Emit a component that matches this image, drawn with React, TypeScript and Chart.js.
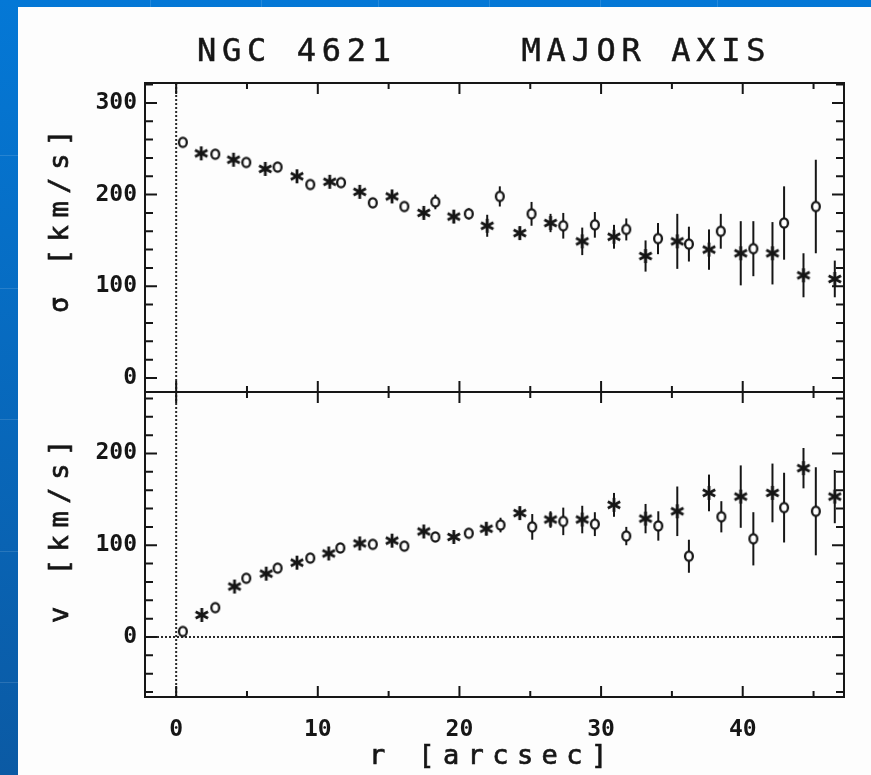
import React, { useEffect, useRef } from 'react';
import { Chart, registerables } from 'chart.js';

Chart.register(...registerables);

// ---------- data ----------
// Upper panel: velocity dispersion sigma [km/s]
const sigmaStarR = [1.77, 4.05, 6.29, 8.53, 10.84, 12.96, 15.24, 17.48, 19.6, 21.96, 24.26, 26.43, 28.67, 30.91, 33.14, 35.38, 37.62, 39.86, 42.1, 44.29, 46.5];
const sigmaStarV = [245, 238, 228, 220, 214, 203, 198, 180, 176, 166, 158, 169, 149, 154, 133, 149, 140, 136, 136, 112, 108];
const sigmaStarErr = [3, 3, 3, 4, 4, 4, 5, 5, 7, 12, 7, 10, 15, 13, 17, 30, 22, 35, 34, 24, 20];

const sigmaCircR = [0.47, 2.76, 4.95, 7.16, 9.47, 11.64, 13.88, 16.11, 18.3, 20.66, 22.85, 25.09, 27.33, 29.56, 31.78, 34.02, 36.2, 38.45, 40.75, 42.92, 45.16];
const sigmaCircV = [257, 244, 235, 230, 211, 213, 191, 187, 192, 179, 198, 179, 166, 167, 162, 152, 146, 160, 141, 169, 187];
const sigmaCircErr = [3, 3, 3, 3, 3, 4, 4, 5, 8, 6, 11, 13, 14, 14, 12, 17, 19, 19, 30, 40, 51];

// Lower panel: rotation velocity v [km/s]
const vStarR = [1.81, 4.12, 6.36, 8.53, 10.77, 12.96, 15.24, 17.48, 19.6, 21.9, 24.26, 26.43, 28.67, 30.91, 33.14, 35.38, 37.62, 39.86, 42.1, 44.29, 46.5];
const vStarV = [24, 55, 69, 81, 91, 102, 105, 115, 109, 118, 135, 128, 128, 144, 129, 137, 157, 153, 157, 184, 153];
const vStarErr = [3, 3, 3, 3, 3, 3, 4, 4, 5, 7, 7, 9, 15, 13, 16, 27, 20, 34, 32, 22, 29];

const vCircR = [0.47, 2.76, 4.95, 7.16, 9.47, 11.59, 13.88, 16.11, 18.3, 20.66, 22.9, 25.14, 27.33, 29.56, 31.78, 34.04, 36.2, 38.49, 40.75, 42.92, 45.16];
const vCircV = [6, 32, 64, 75, 86, 97, 101, 99, 109, 113, 122, 120, 126, 123, 110, 121, 88, 131, 107, 141, 137];
const vCircErr = [3, 3, 3, 3, 3, 3, 3, 5, 5, 5, 8, 14, 15, 13, 10, 16, 18, 17, 29, 38, 48];

// ---------- axes ----------
const xTickLabels = [0, 10, 20, 30, 40];
const xTickMarks = [0, 5, 10, 15, 20, 25, 30, 35, 40, 45];
const sigmaTickLabels = [0, 100, 200, 300];
const sigmaTickMarks = [0, 20, 40, 60, 80, 100, 120, 140, 160, 180, 200, 220, 240, 260, 280, 300, 320];
const vTickLabels = [0, 100, 200];
const vTickMarks = [-60, -40, -20, 0, 20, 40, 60, 80, 100, 120, 140, 160, 180, 200, 220, 240, 260];

const titleText = 'NGC 4621     MAJOR AXIS';
const sigmaTitle = 'σ [km/s]';
const vTitle = 'v [km/s]';
const xTitle = 'r [arcsec]';

const INK = '#161616';
const MONO = '"DejaVu Sans Mono", "Liberation Mono", monospace';

function pts(xs: number[], ys: number[]) {
  return xs.map((x, i) => ({ x, y: ys[i] }));
}

function makeStar(): HTMLCanvasElement {
  const size = 18;
  const c = document.createElement('canvas');
  c.width = size;
  c.height = size;
  const g = c.getContext('2d')!;
  g.strokeStyle = INK;
  g.lineWidth = 2.8;
  const cx = size / 2, cy = size / 2, r = 7;
  for (const a of [90, 28, 152]) {
    const rad = (a * Math.PI) / 180;
    g.beginPath();
    g.moveTo(cx - r * Math.cos(rad), cy - r * Math.sin(rad));
    g.lineTo(cx + r * Math.cos(rad), cy + r * Math.sin(rad));
    g.stroke();
  }
  return c;
}

function makeCircle(): HTMLCanvasElement {
  const size = 14;
  const c = document.createElement('canvas');
  c.width = size;
  c.height = size;
  const g = c.getContext('2d')!;
  g.fillStyle = '#ffffff';
  g.strokeStyle = INK;
  g.lineWidth = 2.3;
  g.beginPath();
  g.ellipse(size / 2, size / 2, 3.9, 4.7, 0, 0, Math.PI * 2);
  g.fill();
  g.stroke();
  return c;
}

const decorPlugin = {
  id: 'decor',
  beforeDraw(chart: any) {
    const { ctx, width, height } = chart;
    ctx.save();
    const grad = ctx.createLinearGradient(0, 0, 0, height);
    grad.addColorStop(0, '#0478d6');
    grad.addColorStop(1, '#0b5aa4');
    ctx.fillStyle = grad;
    ctx.fillRect(0, 0, width, height);
    ctx.strokeStyle = 'rgba(255,255,255,0.13)';
    ctx.lineWidth = 1;
    for (const y of [155, 288, 419, 551, 682]) {
      ctx.beginPath();
      ctx.moveTo(0, y + 0.5);
      ctx.lineTo(18, y + 0.5);
      ctx.stroke();
    }
    for (const x of [150, 261, 378, 489, 600, 717]) {
      ctx.beginPath();
      ctx.moveTo(x + 0.5, 0);
      ctx.lineTo(x + 0.5, 7);
      ctx.stroke();
    }
    ctx.fillStyle = '#fdfdfd';
    ctx.fillRect(18, 7, width - 18, height - 7);
    ctx.restore();
  },
  beforeDatasetsDraw(chart: any) {
    const { ctx, chartArea, scales } = chart;
    const xs = scales.x;
    const yv = scales.yV;
    ctx.save();
    // dotted reference lines
    ctx.strokeStyle = '#2a2a2a';
    ctx.lineWidth = 2;
    ctx.setLineDash([2, 2]);
    const x0 = xs.getPixelForValue(0);
    ctx.beginPath();
    ctx.moveTo(x0, chartArea.top);
    ctx.lineTo(x0, chartArea.bottom);
    ctx.stroke();
    const v0 = yv.getPixelForValue(0);
    ctx.beginPath();
    ctx.moveTo(chartArea.left, v0);
    ctx.lineTo(chartArea.right, v0);
    ctx.stroke();
    ctx.setLineDash([]);
    // error bars
    ctx.strokeStyle = INK;
    ctx.lineWidth = 2;
    chart.data.datasets.forEach((ds: any, i: number) => {
      const meta = chart.getDatasetMeta(i);
      const ys = scales[meta.yAxisID];
      ds.data.forEach((p: any, j: number) => {
        const e = ds.errors[j];
        const px = xs.getPixelForValue(p.x);
        ctx.beginPath();
        ctx.moveTo(px, ys.getPixelForValue(p.y - e));
        ctx.lineTo(px, ys.getPixelForValue(p.y + e));
        ctx.stroke();
      });
    });
    ctx.restore();
  },
  afterDatasetsDraw(chart: any) {
    const { ctx, chartArea, scales } = chart;
    const xs = scales.x;
    const ys = scales.ySigma;
    const yv = scales.yV;
    const L = chartArea.left, R = chartArea.right, T = chartArea.top, B = chartArea.bottom;
    const mid = ys.bottom;
    ctx.save();
    ctx.strokeStyle = INK;
    ctx.lineWidth = 2;
    ctx.strokeRect(L, T, R - L, B - T);
    ctx.beginPath();
    ctx.moveTo(L, mid);
    ctx.lineTo(R, mid);
    ctx.stroke();
    // x tick marks (inward), top, middle and bottom
    for (const v of xTickMarks) {
      const px = xs.getPixelForValue(v);
      const major = v % 10 === 0;
      const len = major ? 11 : 6;
      ctx.beginPath();
      ctx.moveTo(px, T);
      ctx.lineTo(px, T + len);
      ctx.moveTo(px, mid - len);
      ctx.lineTo(px, mid + len);
      ctx.moveTo(px, B);
      ctx.lineTo(px, B - len);
      ctx.stroke();
    }
    // y tick marks (inward), left and right
    const yTicks = (scale: any, marks: number[]) => {
      for (const v of marks) {
        const py = scale.getPixelForValue(v);
        const len = v % 100 === 0 ? 12 : 8;
        ctx.beginPath();
        ctx.moveTo(L, py);
        ctx.lineTo(L + len, py);
        ctx.moveTo(R, py);
        ctx.lineTo(R - len, py);
        ctx.stroke();
      }
    };
    yTicks(ys, sigmaTickMarks);
    yTicks(yv, vTickMarks);
    ctx.restore();
  },
  afterDraw(chart: any) {
    const { ctx, chartArea, scales } = chart;
    const ys = scales.ySigma;
    const yv = scales.yV;
    ctx.save();
    ctx.fillStyle = INK;
    ctx.strokeStyle = INK;
    ctx.textBaseline = 'middle';
    ctx.textAlign = 'left';
    const put = (text: string, x: number, y: number, sw: number) => {
      ctx.fillText(text, x, y);
      ctx.lineWidth = sw;
      ctx.strokeText(text, x, y);
    };
    // title
    ctx.font = `normal 32px ${MONO}`;
    (ctx as any).letterSpacing = '5.7px';
    put(titleText, chartArea.left + 52, chartArea.top - 30, 0.5);
    // x title
    ctx.font = `normal 27px ${MONO}`;
    (ctx as any).letterSpacing = '8.4px';
    put(xTitle, chartArea.left + 224, chartArea.bottom + 60, 0.7);
    // y titles (rotated)
    ctx.font = `normal 27px ${MONO}`;
    (ctx as any).letterSpacing = '7.6px';
    const drawV = (text: string, x: number, yStart: number) => {
      ctx.save();
      ctx.translate(x, yStart);
      ctx.rotate(-Math.PI / 2);
      put(text, 0, 0, 0.7);
      ctx.restore();
    };
    drawV(sigmaTitle, 61, ys.bottom - 79);
    drawV(vTitle, 61, yv.bottom - 74);
    (ctx as any).letterSpacing = '0px';
    ctx.restore();
  },
};

export default function App() {
  const ref = useRef<HTMLCanvasElement | null>(null);

  useEffect(() => {
    if (!ref.current) return;
    const star = makeStar();
    const circ = makeCircle();
    const tickFont = { family: MONO, size: 23, weight: 'bold' as const };

    const chart = new Chart(ref.current, {
      type: 'scatter',
      data: {
        datasets: [
          { label: 'σ (*)', data: pts(sigmaStarR, sigmaStarV), errors: sigmaStarErr, yAxisID: 'ySigma', pointStyle: star, pointRadius: 8, showLine: false } as any,
          { label: 'σ (o)', data: pts(sigmaCircR, sigmaCircV), errors: sigmaCircErr, yAxisID: 'ySigma', pointStyle: circ, pointRadius: 6, showLine: false } as any,
          { label: 'v (*)', data: pts(vStarR, vStarV), errors: vStarErr, yAxisID: 'yV', pointStyle: star, pointRadius: 8, showLine: false } as any,
          { label: 'v (o)', data: pts(vCircR, vCircV), errors: vCircErr, yAxisID: 'yV', pointStyle: circ, pointRadius: 6, showLine: false } as any,
        ],
      },
      options: {
        animation: false,
        responsive: false,
        maintainAspectRatio: false,
        events: [],
        layout: { padding: { top: 83, right: 27, left: 0, bottom: 0 } },
        plugins: {
          legend: { display: false },
          tooltip: { enabled: false },
          title: { display: false },
        },
        scales: {
          x: {
            type: 'linear',
            position: 'bottom',
            min: -2.2,
            max: 47.15,
            grid: { display: false, drawTicks: false },
            border: { display: false },
            ticks: { font: tickFont, color: INK, padding: 19, autoSkip: false, maxRotation: 0 },
            afterBuildTicks: (s: any) => {
              s.ticks = xTickLabels.map((v) => ({ value: v }));
            },
            afterFit: (s: any) => {
              s.height = 78;
            },
          },
          ySigma: {
            type: 'linear',
            position: 'left',
            stack: 'panels',
            stackWeight: 309,
            weight: 1,
            min: -15.3,
            max: 321.7,
            grid: { display: false, drawTicks: false },
            border: { display: false },
            ticks: { font: tickFont, color: INK, padding: 8, autoSkip: false },
            afterBuildTicks: (s: any) => {
              s.ticks = sigmaTickLabels.map((v) => ({ value: v }));
            },
            afterFit: (s: any) => {
              s.width = 145;
            },
          },
          yV: {
            type: 'linear',
            position: 'left',
            stack: 'panels',
            stackWeight: 305,
            weight: 0,
            min: -65.4,
            max: 267,
            grid: { display: false, drawTicks: false },
            border: { display: false },
            ticks: { font: tickFont, color: INK, padding: 8, autoSkip: false },
            afterBuildTicks: (s: any) => {
              s.ticks = vTickLabels.map((v) => ({ value: v }));
            },
            afterFit: (s: any) => {
              s.width = 145;
            },
          },
        } as any,
      },
      plugins: [decorPlugin],
    });
    return () => chart.destroy();
  }, []);

  return (
    <div style={{ position: 'absolute', left: 0, top: 0, width: 871, height: 775 }}>
      <canvas ref={ref} width={871} height={775} style={{ display: 'block' }} />
    </div>
  );
}
